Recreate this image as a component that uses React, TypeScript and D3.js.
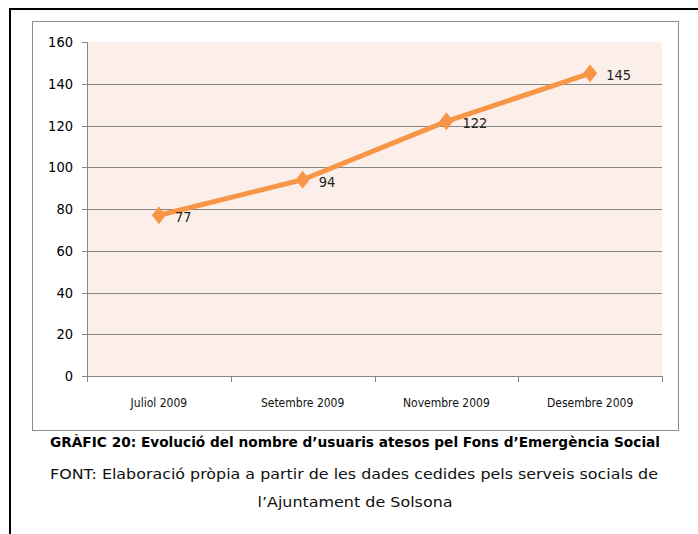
import React from "react";
import * as d3 from "d3";

const categories = ["Juliol 2009", "Setembre 2009", "Novembre 2009", "Desembre 2009"];
const values = [77, 94, 122, 145];
const yTicks = [0, 20, 40, 60, 80, 100, 120, 140, 160];
const caption = "GRÀFIC 20: Evolució del nombre d’usuaris atesos pel Fons d’Emergència Social";
const source1 = "FONT: Elaboració pròpia a partir de les dades cedides pels serveis socials de";
const source2 = "l’Ajuntament de Solsona";

const W = 698, H = 534;
const plot = { left: 87, right: 662, top: 42, bottom: 376 };

export default function App() {
  const x = d3.scaleBand<string>().domain(categories).range([plot.left, plot.right]).padding(0);
  const y = d3.scaleLinear().domain([0, 160]).range([plot.bottom, plot.top]);
  const cx = (c: string) => (x(c) as number) + x.bandwidth() / 2;
  const line = d3.line<number>().x((_, i) => cx(categories[i])).y((v) => y(v));
  const diamond = "M0,-9L7,0L0,9L-7,0Z";
  const boundaries = categories.map((c) => x(c) as number).concat([plot.right]);
  const axisFont = "'DejaVu Sans Condensed', 'DejaVu Sans', sans-serif";
  const xFont = "'Liberation Sans Narrow', 'DejaVu Sans Condensed', sans-serif";
  const capFont = "'DejaVu Sans', 'Open Sans', sans-serif";
  return (
    <svg width={W} height={H} style={{ position: "absolute", left: 0, top: 0, background: "#fff" }}>
      <rect x={10} y={9} width={720} height={560} fill="none" stroke="#000" strokeWidth={2} />
      <rect x={32.5} y={21.5} width={646} height={409} fill="#fff" stroke="#8c8c8c" strokeWidth={1} />
      <rect x={plot.left} y={plot.top} width={plot.right - plot.left} height={plot.bottom - plot.top} fill="#FCEFEA" />
      {yTicks.filter((t) => t > 0 && t < 160).map((t) => (
        <line key={t} x1={plot.left} x2={plot.right} y1={Math.round(y(t)) + 0.5} y2={Math.round(y(t)) + 0.5} stroke="#868686" strokeWidth={1} />
      ))}
      <line x1={plot.left + 0.5} x2={plot.left + 0.5} y1={plot.top} y2={plot.bottom} stroke="#868686" />
      <line x1={plot.left} x2={plot.right} y1={plot.bottom + 0.5} y2={plot.bottom + 0.5} stroke="#868686" />
      {yTicks.map((t) => (
        <g key={t}>
          <line x1={plot.left - 5} x2={plot.left} y1={Math.round(y(t)) + 0.5} y2={Math.round(y(t)) + 0.5} stroke="#868686" />
          <text x={73} y={y(t)} dy="0.35em" textAnchor="end" fontFamily={axisFont} fontSize={14.5} fill="#000">{t}</text>
        </g>
      ))}
      {boundaries.map((b, i) => (
        <line key={i} x1={Math.round(b) + 0.5} x2={Math.round(b) + 0.5} y1={plot.bottom} y2={plot.bottom + 6} stroke="#868686" />
      ))}
      {categories.map((c) => (
        <text key={c} x={cx(c)} y={403} dy="0.35em" textAnchor="middle" fontFamily={xFont} fontSize={12} fill="#111" style={{ fontStretch: "condensed" }}>{c}</text>
      ))}
      <path d={line(values) || ""} fill="none" stroke="#F79646" strokeWidth={5} strokeLinejoin="round" />
      {values.map((v, i) => (
        <g key={i}>
          <path d={diamond} transform={`translate(${cx(categories[i])},${y(v)})`} fill="#F79646" />
          <text x={cx(categories[i]) + 16} y={y(v) + 2} dy="0.35em" fontFamily={axisFont} fontSize={14.5} fill="#222">{v}</text>
        </g>
      ))}
      <text x={355} y={442} dy="0.35em" textAnchor="middle" fontFamily={capFont} fontWeight="bold" fontSize={13.5} fill="#000" textLength={610} lengthAdjust="spacingAndGlyphs">{caption}</text>
      <text x={354} y={474} dy="0.35em" textAnchor="middle" fontFamily={capFont} fontSize={13.5} fill="#111" textLength={608} lengthAdjust="spacingAndGlyphs">{source1}</text>
      <text x={355} y={502} dy="0.35em" textAnchor="middle" fontFamily={capFont} fontSize={13.5} fill="#111" textLength={195} lengthAdjust="spacingAndGlyphs">{source2}</text>
    </svg>
  );
}
